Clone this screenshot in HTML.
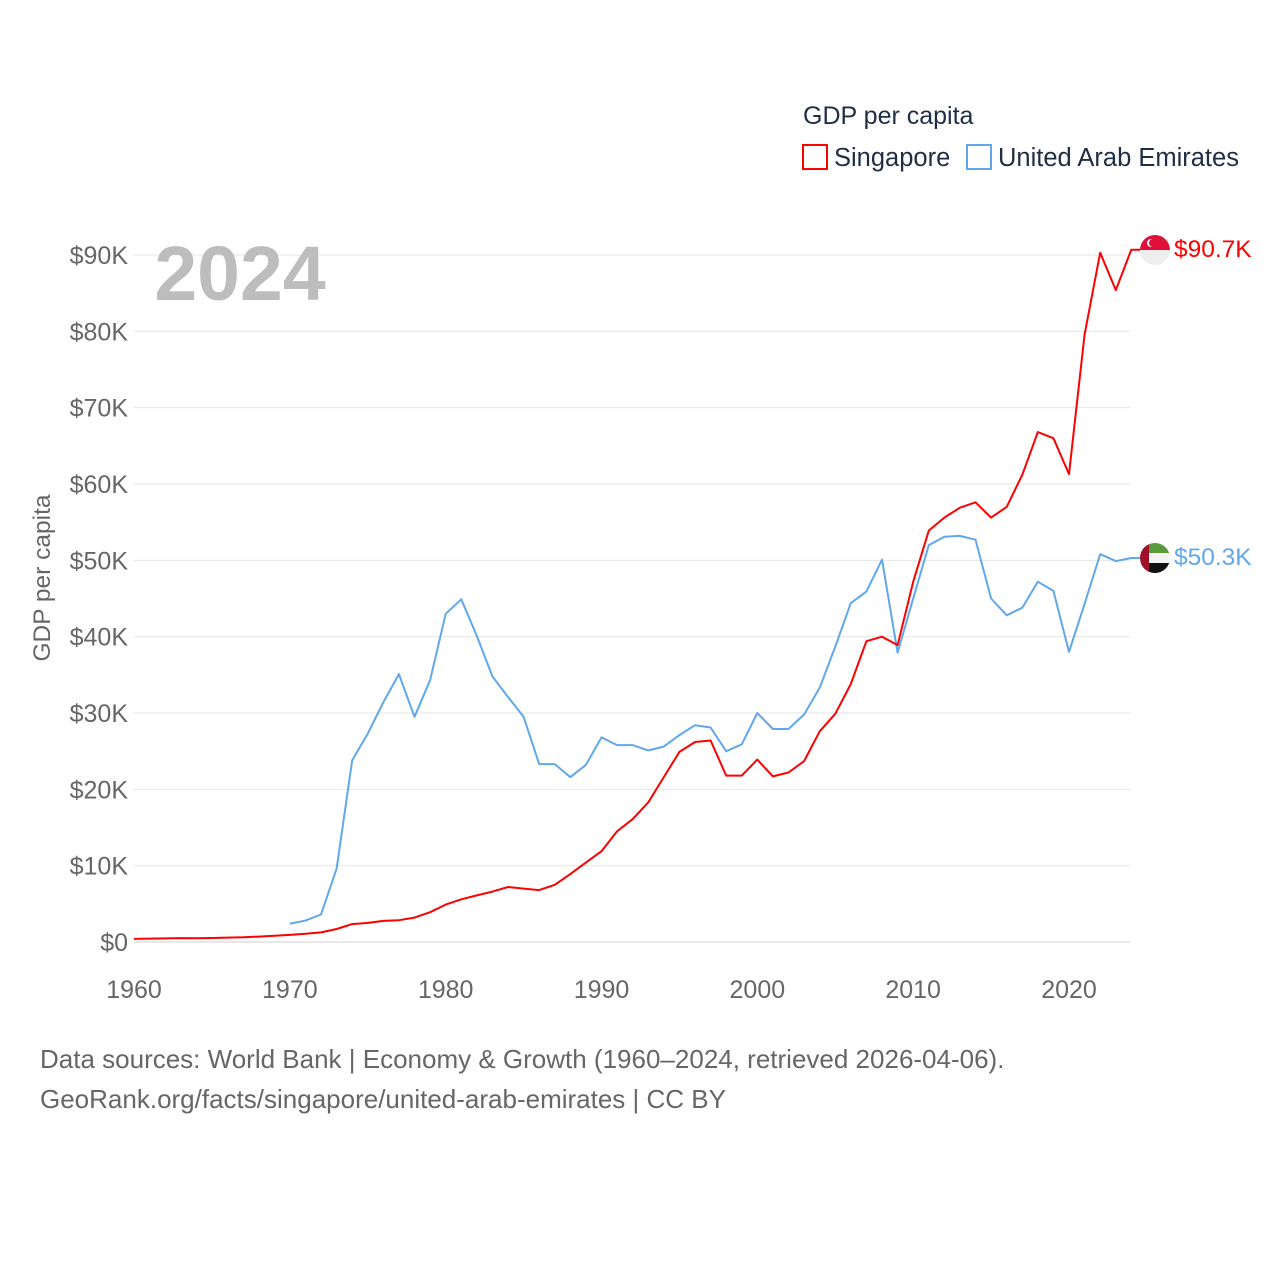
<!DOCTYPE html>
<html><head><meta charset="utf-8">
<style>
html,body{margin:0;padding:0;background:#fff;}
svg{display:block;font-family:"Liberation Sans",sans-serif;}
</style></head>
<body>
<svg id="chart" width="1280" height="1280" viewBox="0 0 1280 1280">
  <g id="grid"></g>
  <g id="yticks"></g>
  <g id="xticks"></g>
  <text x="240" y="300" font-size="77" font-weight="bold" fill="#bdbdbd" text-anchor="middle">2024</text>
  <text transform="translate(50,578) rotate(-90)" font-size="24.5" fill="#666" text-anchor="middle">GDP per capita</text>
  <g id="series"></g>
  <g>
    <text x="803" y="124" font-size="25" fill="#1f2d45">GDP per capita</text>
    <g>
      <rect x="803" y="145" width="24" height="24" fill="none" stroke="#ff0000" stroke-width="2"/>
      <text x="834" y="166" font-size="25.5" fill="#1f2d45">Singapore</text>
    </g>
    <g>
      <rect x="967" y="145" width="24" height="24" fill="none" stroke="#60a8eb" stroke-width="2"/>
      <text x="998" y="166" font-size="25.5" fill="#1f2d45">United Arab Emirates</text>
    </g>
  </g>
  <defs>
    <clipPath id="c1"><circle cx="1155" cy="250" r="15"/></clipPath>
    <clipPath id="c2"><circle cx="1155" cy="558" r="15"/></clipPath>
  </defs>
  <g clip-path="url(#c1)">
    <rect x="1140" y="235" width="30" height="15" fill="#e0103a"/>
    <rect x="1140" y="250" width="30" height="15" fill="#eeeeee"/>
    <circle cx="1151" cy="243" r="4" fill="#fff"/><circle cx="1153" cy="243" r="4" fill="#e0103a"/>
  </g>
  <g clip-path="url(#c2)">
    <rect x="1140" y="543" width="30" height="10" fill="#5b9a3c"/>
    <rect x="1140" y="553" width="30" height="10" fill="#f4f4f4"/>
    <rect x="1140" y="563" width="30" height="10" fill="#111"/>
    <rect x="1140" y="543" width="9" height="30" fill="#a0102a"/>
  </g>
  <text x="1174" y="257" font-size="24.5" fill="#ff0000">$90.7K</text>
  <text x="1174" y="565" font-size="24.5" fill="#60a8eb">$50.3K</text>
  <text x="40" y="1068" font-size="26" fill="#666">Data sources: World Bank | Economy &amp; Growth (1960–2024, retrieved 2026-04-06).</text>
  <text x="40" y="1108" font-size="26" fill="#666">GeoRank.org/facts/singapore/united-arab-emirates | CC BY</text>
</svg>
<script>
const yTicks=[0,10,20,30,40,50,60,70,80,90];
const xTicks=[1960,1970,1980,1990,2000,2010,2020];
const sgYears=[];for(let y=1960;y<=2024;y++)sgYears.push(y);
const sgValues=[0.4,0.45,0.47,0.51,0.49,0.52,0.57,0.62,0.71,0.81,0.93,1.07,1.26,1.7,2.34,2.5,2.77,2.85,3.2,3.9,4.9,5.6,6.1,6.6,7.2,7.0,6.8,7.5,8.9,10.4,11.9,14.5,16.1,18.3,21.6,24.9,26.2,26.4,21.8,21.8,23.9,21.7,22.2,23.7,27.6,29.9,33.8,39.4,40.0,38.9,47.2,53.9,55.6,56.9,57.6,55.6,57.0,61.2,66.8,66.0,61.3,79.6,90.3,85.4,90.7];
const aeYears=[];for(let y=1970;y<=2024;y++)aeYears.push(y);
const aeValues=[2.4,2.8,3.6,9.6,23.8,27.3,31.4,35.1,29.5,34.3,43.0,44.9,40.1,34.8,32.1,29.5,23.3,23.3,21.6,23.2,26.8,25.8,25.8,25.1,25.6,27.1,28.4,28.1,25.0,25.9,30.0,27.9,27.9,29.8,33.3,38.7,44.4,45.9,50.1,37.9,45.0,52.0,53.1,53.2,52.7,45.0,42.8,43.8,47.2,46.0,38.0,44.3,50.8,49.9,50.3];
const X=y=>134+(y-1960)*(935/60);
const Y=v=>942-v*(687/90);
const NS="http://www.w3.org/2000/svg";
const mk=(t,a,p)=>{const e=document.createElementNS(NS,t);for(const k in a)e.setAttribute(k,a[k]);p.appendChild(e);return e;};
const grid=document.getElementById('grid'),yt=document.getElementById('yticks'),xt=document.getElementById('xticks'),ser=document.getElementById('series');
yTicks.forEach(v=>{
  const l=mk('line',{x1:134,x2:1130,y1:Y(v),y2:Y(v),stroke:v===0?'#d0d0d0':'#e6e6e6','stroke-width':1},grid);
  
  
  const t=mk('text',{x:128,y:Y(v)+9,'font-size':25,fill:'#666','text-anchor':'end'},yt);
  t.textContent='$'+v+(v?'K':'');
  
  
});
xTicks.forEach(v=>{
  const t=mk('text',{x:X(v),y:998,'font-size':25,fill:'#666','text-anchor':'middle'},xt);
  t.textContent=v;
  
  
});
function line(ys,vs,c,name){
  let d=ys.map((y,i)=>(i?'L':'M')+X(y).toFixed(1)+','+Y(vs[i]).toFixed(1)).join('');
  d+='L1140,'+Y(vs[vs.length-1]).toFixed(1);
  const p=mk('path',{d:d,fill:'none',stroke:c,'stroke-width':2,'stroke-linejoin':'round'},ser);
  
  
}
line(aeYears,aeValues,'#60a8eb','uae-line');
line(sgYears,sgValues,'#ff0000','singapore-line');
</script>
</body></html>
